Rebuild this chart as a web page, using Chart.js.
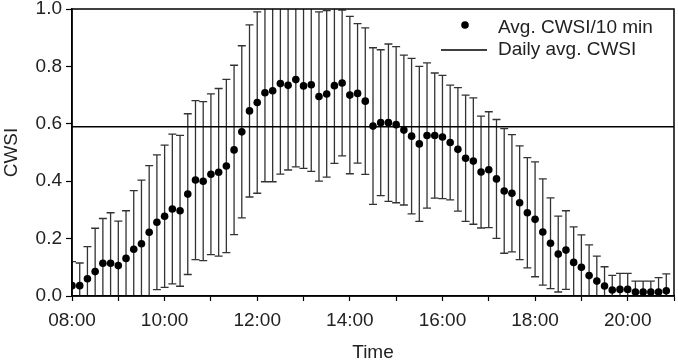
<!DOCTYPE html>
<html lang="en">
<head>
<meta charset="UTF-8">
<title>CWSI over the day</title>
<style>
body { margin: 0; background: #fff; }
#chart { display: block; }
</style>
</head>
<body>
<canvas id="chart" width="678" height="360"></canvas>
<script src="https://cdn.jsdelivr.net/npm/chart.js"></script>
<script>
// 10 min averages of CWSI, 08:00 - 20:50
const times = [
  '08:00','08:10','08:20','08:30','08:40','08:50','09:00','09:10','09:20','09:30','09:40','09:50',
  '10:00','10:10','10:20','10:30','10:40','10:50','11:00','11:10','11:20','11:30','11:40','11:50',
  '12:00','12:10','12:20','12:30','12:40','12:50','13:00','13:10','13:20','13:30','13:40','13:50',
  '14:00','14:10','14:20','14:30','14:40','14:50','15:00','15:10','15:20','15:30','15:40','15:50',
  '16:00','16:10','16:20','16:30','16:40','16:50','17:00','17:10','17:20','17:30','17:40','17:50',
  '18:00','18:10','18:20','18:30','18:40','18:50','19:00','19:10','19:20','19:30','19:40','19:50',
  '20:00','20:10','20:20','20:30','20:40','20:50'
];
const cwsiMean = [
  0.036,0.036,0.060,0.085,0.114,0.114,0.106,0.131,0.163,0.182,0.222,0.257,
  0.278,0.303,0.297,0.355,0.404,0.400,0.424,0.431,0.453,0.509,0.572,0.645,
  0.674,0.708,0.715,0.740,0.734,0.754,0.732,0.736,0.695,0.704,0.733,0.742,
  0.700,0.706,0.679,0.592,0.604,0.604,0.597,0.578,0.557,0.530,0.559,0.559,
  0.554,0.535,0.511,0.480,0.470,0.432,0.440,0.408,0.366,0.358,0.325,0.290,
  0.267,0.223,0.184,0.146,0.160,0.117,0.100,0.071,0.052,0.035,0.021,0.023,
  0.023,0.014,0.014,0.014,0.014,0.018
];
const cwsiSd = [
  0.084,0.079,0.112,0.151,0.156,0.176,0.155,0.166,0.204,0.222,0.232,0.235,
  0.248,0.261,0.263,0.280,0.277,0.277,0.280,0.292,0.302,0.295,0.300,0.300,
  0.316,0.310,0.317,0.315,0.295,0.304,0.287,0.302,0.295,0.290,0.271,0.254,
  0.274,0.243,0.255,0.273,0.254,0.274,0.272,0.261,0.271,0.270,0.253,0.218,
  0.215,0.200,0.215,0.220,0.220,0.195,0.202,0.207,0.217,0.204,0.198,0.192,
  0.200,0.185,0.158,0.132,0.137,0.124,0.113,0.107,0.087,0.067,0.051,0.056,
  0.056,0.038,0.038,0.038,0.050,0.059
];
const dailyAvg = 0.59;
const yTicks = [0, 0.2, 0.4, 0.6, 0.8, 1.0];
const xStart = '08:00', xEnd = '21:00';

const FONT = "'Liberation Sans', Arial, sans-serif";
const TEXT = '#222';

function toMin(t) {
  const [h, m] = t.split(':').map(Number);
  return h * 60 + m;
}
function fmt(min) {
  const h = Math.floor(min / 60), m = min % 60;
  return String(h).padStart(2, '0') + ':' + String(m).padStart(2, '0');
}

const points = times.map((t, i) => ({ x: toMin(t), y: cwsiMean[i] }));

// whiskers drawn under the dots
const errorBars = {
  id: 'errorBars',
  beforeDatasetsDraw(chart) {
    const { ctx, chartArea: a, scales: { x, y } } = chart;
    const lo = y.min, hi = y.max;
    ctx.save();
    ctx.beginPath();
    ctx.rect(a.left, a.top, a.right - a.left, a.bottom - a.top);
    ctx.clip();
    ctx.strokeStyle = '#333';
    ctx.lineWidth = 1.3;
    points.forEach((p, i) => {
      const top = p.y + cwsiSd[i], bot = p.y - cwsiSd[i];
      const px = x.getPixelForValue(p.x);
      const yt = y.getPixelForValue(Math.min(top, hi));
      const yb = y.getPixelForValue(Math.max(bot, lo));
      ctx.beginPath();
      ctx.moveTo(px, yt);
      ctx.lineTo(px, yb);
      if (top <= hi) { ctx.moveTo(px - 4, yt); ctx.lineTo(px + 4, yt); }
      if (bot >= lo) { ctx.moveTo(px - 4, yb); ctx.lineTo(px + 4, yb); }
      ctx.stroke();
    });
    ctx.restore();
  }
};

// full box round the plot + legend in the upper right corner
const frameAndLegend = {
  id: 'frameAndLegend',
  afterDraw(chart) {
    const { ctx, chartArea: a } = chart;
    ctx.save();
    ctx.strokeStyle = '#000';
    ctx.lineWidth = 1.5;
    ctx.strokeRect(a.left, a.top, a.right - a.left, a.bottom - a.top);

    const ds = chart.data.datasets;
    ctx.font = '19px ' + FONT;
    ctx.fillStyle = TEXT;
    ctx.textBaseline = 'middle';
    const tx = a.right - 176;
    ctx.fillText(ds[0].label, tx, a.top + 19);
    ctx.fillText(ds[1].label, tx, a.top + 41);
    ctx.fillStyle = '#000';
    ctx.beginPath();
    ctx.arc(a.right - 209, a.top + 16, 3.8, 0, Math.PI * 2);
    ctx.fill();
    ctx.lineWidth = 1.5;
    ctx.beginPath();
    ctx.moveTo(a.right - 233, a.top + 41);
    ctx.lineTo(a.right - 187, a.top + 41);
    ctx.stroke();
    ctx.restore();
  }
};

new Chart(document.getElementById('chart'), {
  type: 'scatter',
  data: {
    datasets: [
      {
        label: 'Avg. CWSI/10 min',
        data: points,
        pointRadius: 3.8,
        pointBackgroundColor: '#000',
        pointBorderWidth: 0,
        showLine: false,
        order: 1
      },
      {
        type: 'line',
        label: 'Daily avg. CWSI',
        data: [{ x: toMin(xStart), y: dailyAvg }, { x: toMin(xEnd), y: dailyAvg }],
        borderColor: '#000',
        borderWidth: 1.5,
        pointRadius: 0,
        order: 2
      }
    ]
  },
  options: {
    responsive: false,
    animation: false,
    devicePixelRatio: 1,
    layout: { padding: { top: 9, right: 2, left: 0, bottom: 0 } },
    plugins: { legend: { display: false }, tooltip: { enabled: false } },
    scales: {
      x: {
        type: 'linear',
        min: toMin(xStart),
        max: toMin(xEnd),
        afterFit: s => { s.height = 64; s.paddingLeft = 0; s.paddingRight = 0; },
        border: { color: '#000', width: 1.5 },
        grid: { drawOnChartArea: false, tickLength: 5, tickColor: '#000', tickWidth: 1.2 },
        ticks: {
          stepSize: 60,
          autoSkip: false,
          maxRotation: 0,
          padding: 8,
          color: TEXT,
          font: { family: FONT, size: 19 },
          callback: v => (v - toMin(xStart)) % 120 === 0 ? fmt(v) : ''
        },
        title: { display: true, text: 'Time', color: TEXT, padding: { top: 4, bottom: -4 }, font: { family: FONT, size: 19 } }
      },
      y: {
        min: yTicks[0],
        max: yTicks[yTicks.length - 1],
        afterFit: s => { s.width = 72; s.paddingTop = 0; s.paddingBottom = 0; },
        afterBuildTicks: s => { s.ticks = yTicks.map(v => ({ value: v })); },
        border: { color: '#000', width: 1.5 },
        grid: { drawOnChartArea: false, tickLength: 6, tickColor: '#000', tickWidth: 1.2 },
        ticks: {
          padding: 4,
          color: TEXT,
          font: { family: FONT, size: 19 },
          callback: v => v.toFixed(1)
        },
        title: { display: true, text: 'CWSI', color: TEXT, padding: 0, font: { family: FONT, size: 19 } }
      }
    }
  },
  plugins: [errorBars, frameAndLegend]
});
</script>
</body>
</html>
